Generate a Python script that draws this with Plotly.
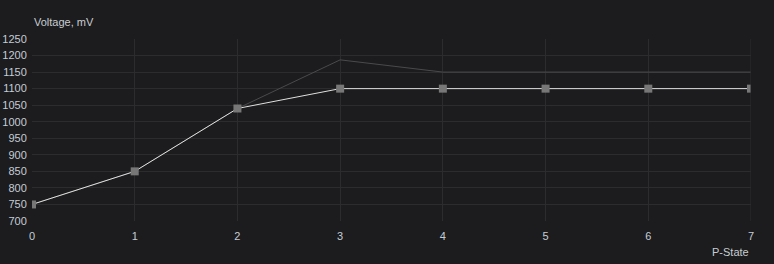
import plotly.graph_objects as go

p_states = [0, 1, 2, 3, 4, 5, 6, 7]
default_voltage = [750, 850, 1040, 1187, 1150, 1150, 1150, 1150]
curve_voltage = [750, 850, 1040, 1100, 1100, 1100, 1100, 1100]
y_ticks = list(range(700, 1251, 50))

bg = "#1c1c1e"
grid = "#2c2c2e"
tick_color = "#c4ccd6"

fig = go.Figure()
fig.add_trace(go.Scatter(x=p_states, y=default_voltage, mode="lines",
                         line=dict(color="#4a4a4c", width=1), hoverinfo="skip"))
fig.add_trace(go.Scatter(x=p_states, y=curve_voltage, mode="lines+markers",
                         line=dict(color="#e0e0e0", width=1),
                         marker=dict(symbol="square", size=8, color="#777777", line=dict(width=0))))

fig.update_layout(
    width=774, height=264,
    margin=dict(l=32, r=23, t=39, b=43),
    paper_bgcolor=bg, plot_bgcolor=bg,
    showlegend=False,
    font=dict(family="Liberation Sans, Arial", size=11, color=tick_color),
    xaxis=dict(range=[0, 7], tickvals=p_states, showgrid=True, gridcolor=grid, gridwidth=1,
               zeroline=False, showline=False, ticks="outside", ticklen=5, tickcolor=bg,
               automargin=False, tickfont=dict(size=11, color=tick_color)),
    yaxis=dict(range=[700, 1250], tickvals=y_ticks, showgrid=True, gridcolor=grid, gridwidth=1,
               zeroline=False, showline=False, ticks="outside", ticklen=2, tickcolor=bg,
               automargin=False, tickfont=dict(size=11, color=tick_color)),
    annotations=[
        dict(text="Voltage, mV", xref="paper", yref="paper", x=0, y=1, xanchor="left",
             yanchor="bottom", yshift=9, showarrow=False, font=dict(size=11, color="#c8ccd2")),
        dict(text="P-State", xref="paper", yref="paper", x=1, y=0, xanchor="right",
             yanchor="top", yshift=-23, showarrow=False, font=dict(size=11, color="#c8ccd2")),
    ],
)
fig.add_shape(type="line", xref="x", yref="paper", x0=7, x1=7, y0=0, y1=1,
              line=dict(color=grid, width=1))

fig.write_html("out.html")
